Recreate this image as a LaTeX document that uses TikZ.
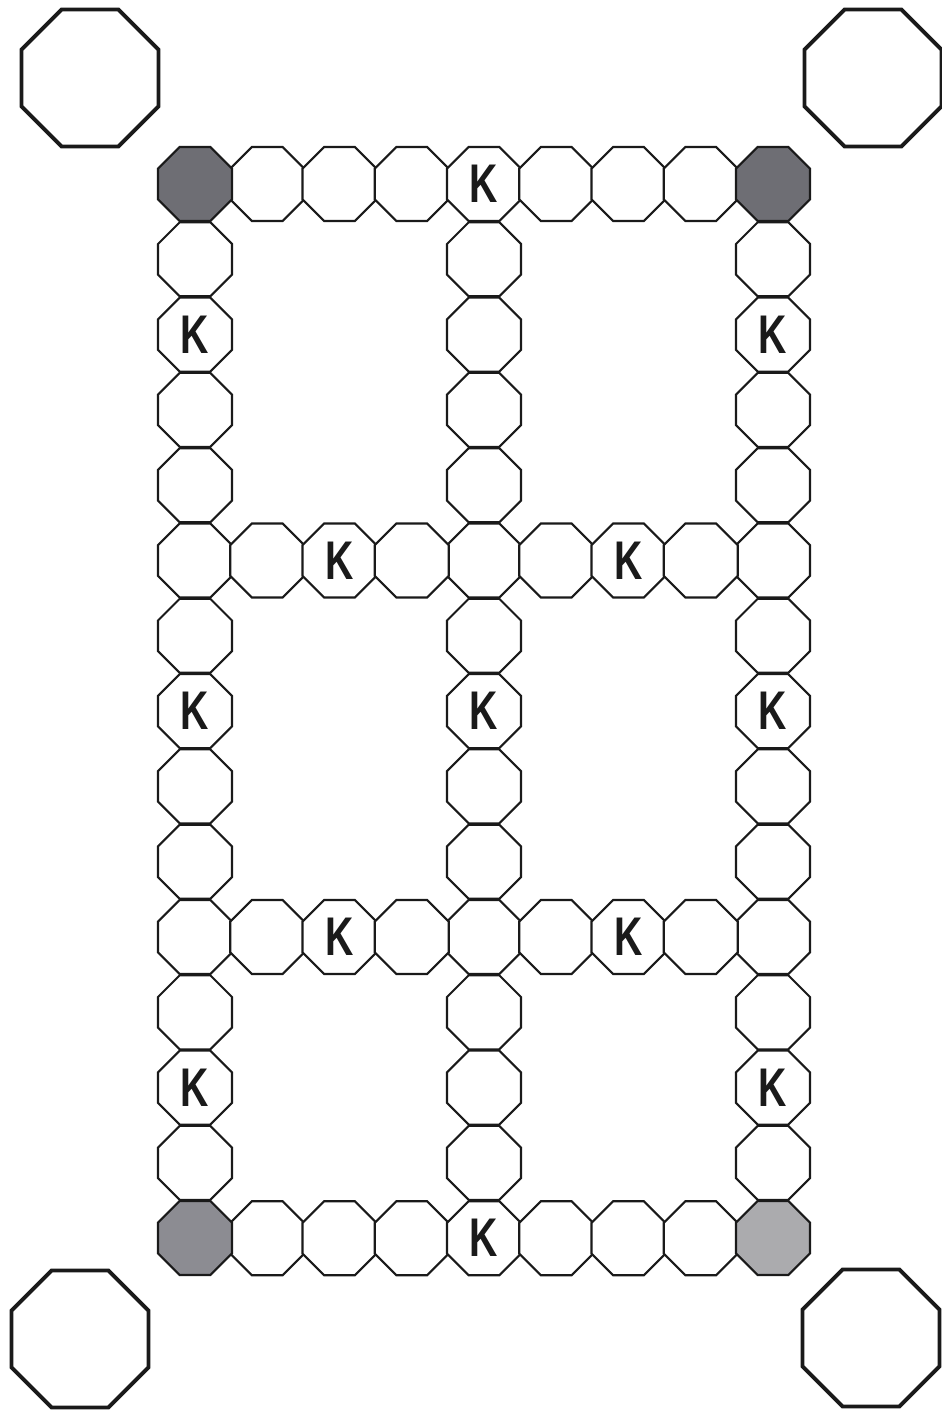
\documentclass[tikz,border=0pt]{standalone}
\usepackage{fontspec}
\setsansfont{Liberation Sans}
\usetikzlibrary{positioning,shapes.geometric}
\definecolor{cLine}{HTML}{1A1A1A}
\definecolor{cShadeDark}{HTML}{6E6E74}
\definecolor{cShadeMid}{HTML}{8C8C92}
\definecolor{cShadeLight}{HTML}{ABABAE}
\tikzset{
  cell/.style={regular polygon, regular polygon sides=8, draw=cLine,
               line width=1.2pt, minimum size=1.602cm,
               inner sep=0pt, outer sep=0pt, fill=white},
  corner/.style={cell, fill=cShadeDark},
  bigcell/.style={regular polygon, regular polygon sides=8, draw=cLine,
                  line width=2.2pt, minimum size=2.966cm,
                  inner sep=0pt, outer sep=0pt},
  klbl/.style={font=\sffamily\bfseries\fontsize{31}{31}\selectfont,
               inner sep=0pt, text=cLine},
}
\newcommand{\kmark}{\scalebox{0.72}[1]{K}}

\begin{document}
\begin{tikzpicture}[x=0.02cm, y=-0.02cm]
  \useasboundingbox (0,0) rectangle (942,1414);

  % the four loose octagons
  \node[bigcell] (free-tl) at (90,78) {};
  \node[bigcell] (free-tr) at (873,78) {};
  \node[bigcell] (free-bl) at (80,1339) {};
  \node[bigcell] (free-br) at (871,1338) {};

  % columns (left, middle, right)
  \foreach \i in {0,4,8}
    \foreach \j in {1,...,13}
      \node[cell] (c-\i-\j) at ({195+72.25*\i},{184+75.3*\j}) {};
  % top and bottom rows
  \foreach \j in {0,14}
    \foreach \i in {1,...,7}
      \node[cell] (c-\i-\j) at ({195+72.25*\i},{184+75.3*\j}) {};
  % two cross rows
  \foreach \j in {5,10}
    \foreach \i in {1,2,3,5,6,7}
      \node[cell] (c-\i-\j) at ({195+72.25*\i},{184+75.3*\j}) {};

  % shaded corners
  \node[corner] (c-0-0) at (195,184) {};
  \node[corner] (c-8-0) at (773,184) {};
  \node[corner, fill=cShadeMid] (c-0-14) at (195,1238) {};
  \node[corner, fill=cShadeLight] (c-8-14) at (773,1238) {};

  % K fields
  \foreach \i/\j in {4/0, 0/2, 8/2, 2/5, 6/5, 0/7, 4/7, 8/7,
                     2/10, 6/10, 0/12, 8/12, 4/14}
    \node[klbl] (k-\i-\j) at (c-\i-\j) {\kmark};
\end{tikzpicture}
\end{document}
